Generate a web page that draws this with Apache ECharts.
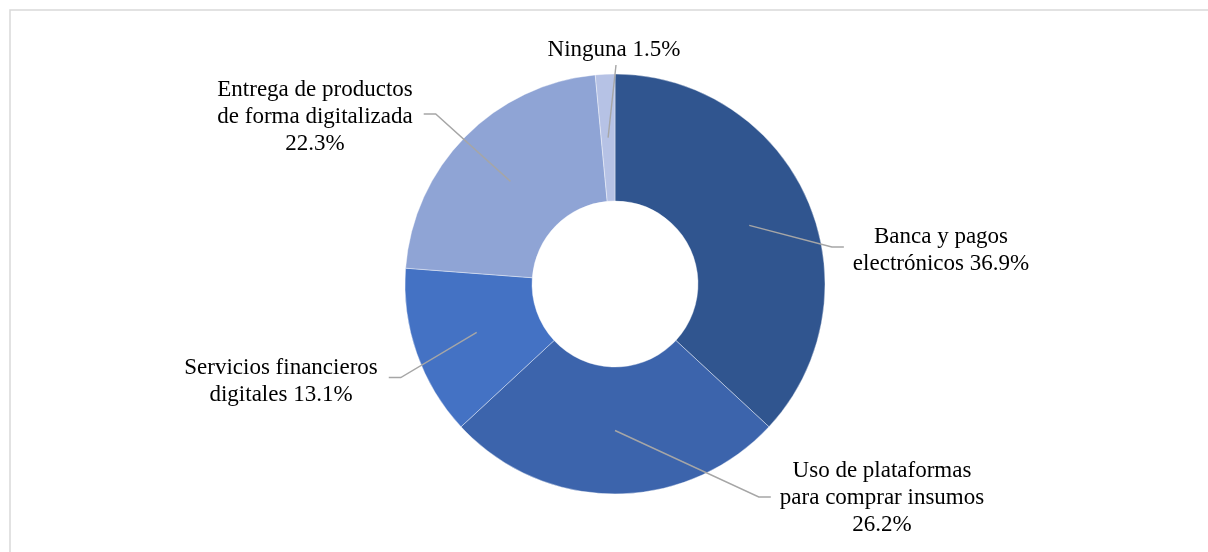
<!DOCTYPE html>
<html>
<head>
<meta charset="utf-8">
<script src="https://cdn.jsdelivr.net/npm/echarts@6/dist/echarts.min.js"></script>
<style>
  html, body { margin: 0; padding: 0; background: #fff; }
  #chart { width: 1208px; height: 552px; }
</style>
</head>
<body>
<div id="chart"></div>
<script>
// Categories in clockwise order, starting at 12 o'clock
const categories = [
  'Banca y pagos\nelectrónicos',
  'Uso de plataformas\npara comprar insumos',
  'Servicios financieros\ndigitales',
  'Entrega de productos\nde forma digitalizada',
  'Ninguna'
];
// Share of respondents, %
const values = [36.9, 26.2, 13.1, 22.3, 1.5];
// How the percentage joins the category text
const valueJoin = [' ', '\n', ' ', '\n', ' '];

// Slice colours
const sliceColors = ['#30558F', '#3C64AC', '#4472C4', '#8FA4D5', '#B6C2E5'];

// Ring geometry (pixels)
const CENTER = [615, 284];
const RADII = [83, 210];

// Label block centres and which side the leader line attaches to
const labelSpots = [
  { x: 941, y: 250.5, side: 'right', lineDy: -3.5 },
  { x: 882, y: 498,   side: 'right', lineDy: -1 },
  { x: 281, y: 381,   side: 'left',  lineDy: -3.5 },
  { x: 315, y: 116.5, side: 'left',  lineDy: -2.5 },
  { x: 614, y: 49.5,  side: 'top',   lineDy: 0 }
];

// Mid-ring point at the middle angle of each slice
const total = values.reduce((a, b) => a + b, 0);
function midRingPoint(i) {
  let before = 0;
  for (let k = 0; k < i; k++) before += values[k];
  const midFrac = (before + values[i] / 2) / total;
  const ang = (90 - midFrac * 360) * Math.PI / 180;
  const r = (RADII[0] + RADII[1]) / 2;
  return [CENTER[0] + r * Math.cos(ang), CENTER[1] - r * Math.sin(ang)];
}

// Leader lines collected during label layout, then drawn above the ring
const leaderPaths = [];

const chart = echarts.init(document.getElementById('chart'), null, { renderer: 'canvas' });

const frame = {
  type: 'rect',
  shape: { x: 10, y: 10, width: 1230, height: 600 },
  style: { fill: 'none', stroke: '#D9D9D9', lineWidth: 1.5 },
  silent: true
};

const option = {
  backgroundColor: '#ffffff',
  animation: false,
  graphic: [frame],
  series: [{
    type: 'pie',
    center: CENTER,
    radius: RADII,
    startAngle: 90,
    clockwise: true,
    avoidLabelOverlap: false,
    data: categories.map((name, i) => ({
      name: name,
      value: values[i],
      itemStyle: { color: sliceColors[i] }
    })),
    itemStyle: { borderColor: '#ffffff', borderWidth: 0.4 },
    label: {
      show: true,
      position: 'outside',
      formatter: (p) => p.name + valueJoin[p.dataIndex] + values[p.dataIndex].toFixed(1) + '%',
      fontFamily: '"Liberation Serif", "Times New Roman", serif',
      fontSize: 23,
      lineHeight: 27,
      color: '#000000',
      align: 'center'
    },
    labelLine: { show: false },
    emphasis: { disabled: true },
    labelLayout: function (params) {
      const i = params.dataIndex;
      const spot = labelSpots[i];
      const w = params.labelRect.width;
      const h = params.labelRect.height;
      const start = midRingPoint(i);
      let pts;
      if (spot.side === 'right') {
        const end = [spot.x - w / 2 - 9, spot.y + spot.lineDy];
        pts = [start, [end[0] - 12, end[1]], end];
      } else if (spot.side === 'left') {
        const end = [spot.x + w / 2 + 11, spot.y + spot.lineDy];
        pts = [start, [end[0] + 12, end[1]], end];
      } else {
        const end = [spot.x + 2, spot.y + h / 2 + 2];
        pts = [start, end];
      }
      leaderPaths[i] = pts;
      return { x: spot.x, y: spot.y, align: 'center', verticalAlign: 'middle' };
    }
  }]
};

chart.setOption(option);

// Draw the leader lines on top of the slices
chart.setOption({
  graphic: [frame].concat(leaderPaths.map((pts) => ({
    type: 'polyline',
    z: 100,
    silent: true,
    shape: { points: pts },
    style: { stroke: '#A6A6A6', lineWidth: 1.4, fill: 'none' }
  })))
}, { replaceMerge: ['graphic'] });
</script>
</body>
</html>
